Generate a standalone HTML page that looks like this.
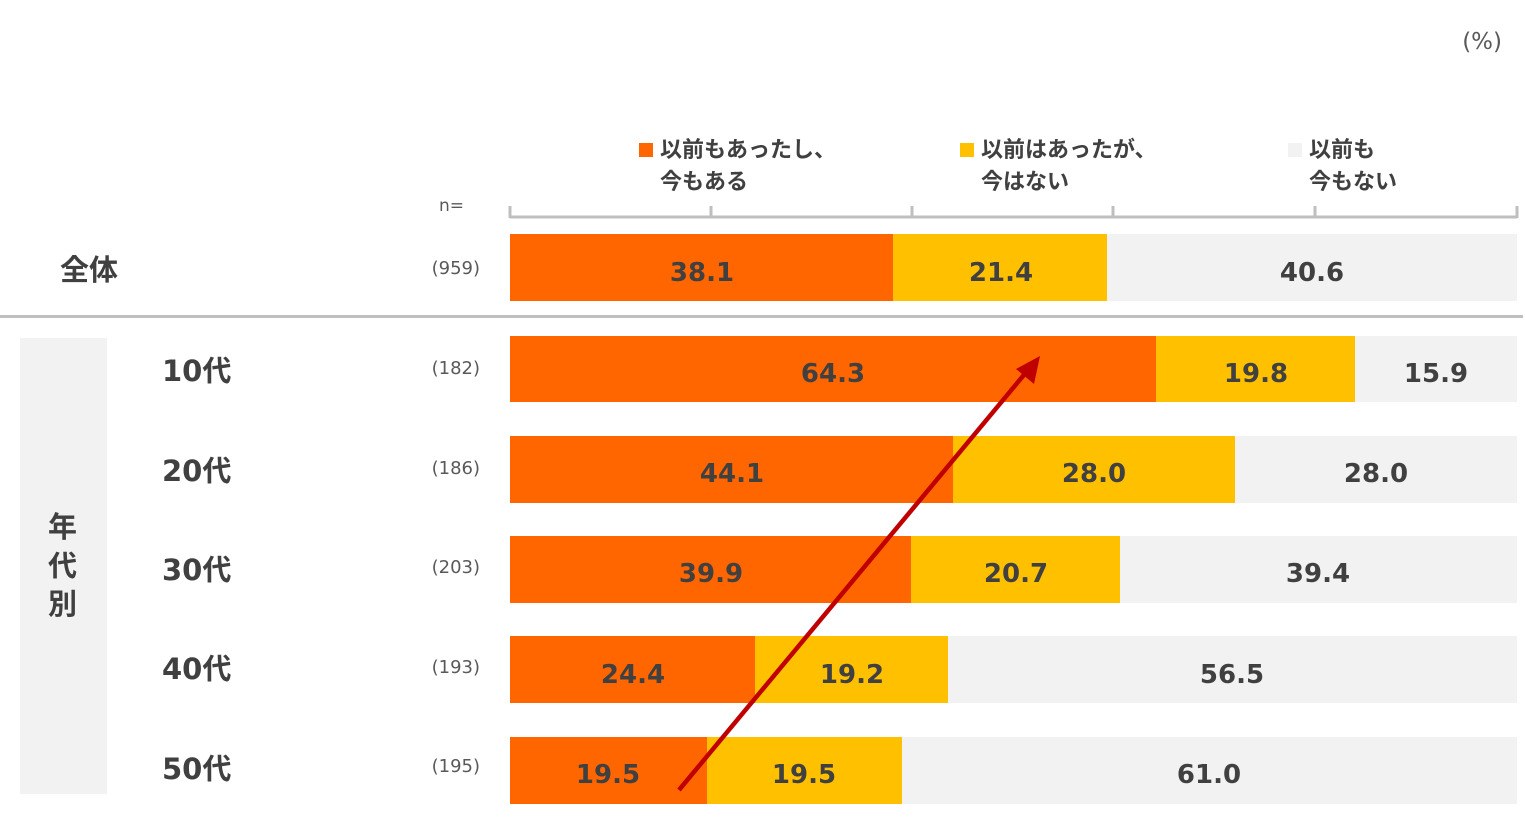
<!DOCTYPE html>
<html><head><meta charset="utf-8"><style>
html,body{margin:0;padding:0;background:#fff;}
svg text{font-family:"DejaVu Sans","Noto Sans CJK JP",sans-serif;}
</style></head><body>
<svg width="1525" height="819" xmlns="http://www.w3.org/2000/svg">
<text x="1502" y="49" font-size="23" fill="#595959" text-anchor="end">(%)</text>
<!-- legend -->
<rect x="639" y="143" width="14" height="14" fill="#ff6600"/>
<text x="660" y="157" font-size="22" font-weight="bold" fill="#404040">以前もあったし、</text>
<text x="660" y="189" font-size="22" font-weight="bold" fill="#404040">今もある</text>
<rect x="960" y="143" width="14" height="14" fill="#ffc000"/>
<text x="981" y="157" font-size="22" font-weight="bold" fill="#404040">以前はあったが、</text>
<text x="981" y="189" font-size="22" font-weight="bold" fill="#404040">今はない</text>
<rect x="1288" y="143" width="14" height="14" fill="#f2f2f2"/>
<text x="1309" y="157" font-size="22" font-weight="bold" fill="#404040">以前も</text>
<text x="1309" y="189" font-size="22" font-weight="bold" fill="#404040">今もない</text>
<text x="439" y="211" font-size="17" fill="#595959">n=</text>
<!-- axis -->
<g stroke="#bfbfbf" stroke-width="3" fill="none">
<line x1="510" y1="217" x2="1517" y2="217"/>
<line x1="510" y1="206" x2="510" y2="218"/><line x1="711" y1="206" x2="711" y2="218"/>
<line x1="912" y1="206" x2="912" y2="218"/><line x1="1113" y1="206" x2="1113" y2="218"/>
<line x1="1315" y1="206" x2="1315" y2="218"/><line x1="1517" y1="206" x2="1517" y2="218"/>
<line x1="0" y1="316.5" x2="1523" y2="316.5"/>
</g>
<rect x="20" y="338" width="87" height="456" fill="#f2f2f2"/>
<g font-size="29" font-weight="bold" fill="#404040">
<text x="60" y="280">全体</text>
<text x="162" y="381">10代</text>
<text x="162" y="481">20代</text>
<text x="162" y="580">30代</text>
<text x="162" y="679">40代</text>
<text x="162" y="779">50代</text>
<text x="48" y="537">年</text>
<text x="48" y="576">代</text>
<text x="48" y="614">別</text>
</g>
<g font-size="18" fill="#595959" text-anchor="end">
<text x="480" y="274">(959)</text>
<text x="480" y="374">(182)</text>
<text x="480" y="474">(186)</text>
<text x="480" y="573">(203)</text>
<text x="480" y="673">(193)</text>
<text x="480" y="772">(195)</text>
</g>
<!-- bars -->
<g>
<rect x="510" y="234" width="1007" height="67" fill="#f2f2f2"/>
<rect x="510" y="234" width="383" height="67" fill="#ff6600"/>
<rect x="893" y="234" width="214" height="67" fill="#ffc000"/>
<rect x="510" y="336" width="1007" height="66" fill="#f2f2f2"/>
<rect x="510" y="336" width="646" height="66" fill="#ff6600"/>
<rect x="1156" y="336" width="199" height="66" fill="#ffc000"/>
<rect x="510" y="436" width="1007" height="67" fill="#f2f2f2"/>
<rect x="510" y="436" width="443" height="67" fill="#ff6600"/>
<rect x="953" y="436" width="282" height="67" fill="#ffc000"/>
<rect x="510" y="536" width="1007" height="67" fill="#f2f2f2"/>
<rect x="510" y="536" width="401" height="67" fill="#ff6600"/>
<rect x="911" y="536" width="209" height="67" fill="#ffc000"/>
<rect x="510" y="636" width="1007" height="67" fill="#f2f2f2"/>
<rect x="510" y="636" width="245" height="67" fill="#ff6600"/>
<rect x="755" y="636" width="193" height="67" fill="#ffc000"/>
<rect x="510" y="737" width="1007" height="67" fill="#f2f2f2"/>
<rect x="510" y="737" width="197" height="67" fill="#ff6600"/>
<rect x="707" y="737" width="195" height="67" fill="#ffc000"/>
</g>
<g font-size="26" font-weight="bold" fill="#404040" text-anchor="middle">
<text x="702" y="281">38.1</text><text x="1001" y="281">21.4</text><text x="1312" y="281">40.6</text>
<text x="833" y="382">64.3</text><text x="1256" y="382">19.8</text><text x="1436" y="382">15.9</text>
<text x="732" y="482">44.1</text><text x="1094" y="482">28.0</text><text x="1376" y="482">28.0</text>
<text x="711" y="582">39.9</text><text x="1016" y="582">20.7</text><text x="1318" y="582">39.4</text>
<text x="633" y="683">24.4</text><text x="852" y="683">19.2</text><text x="1232" y="683">56.5</text>
<text x="608" y="783">19.5</text><text x="804" y="783">19.5</text><text x="1209" y="783">61.0</text>
</g>
<!-- arrow -->
<line x1="679" y1="790" x2="1028" y2="370" stroke="#c00000" stroke-width="4.5"/>
<polygon points="1040,356 1034,384 1016,369" fill="#c00000"/>
</svg>
</body></html>
